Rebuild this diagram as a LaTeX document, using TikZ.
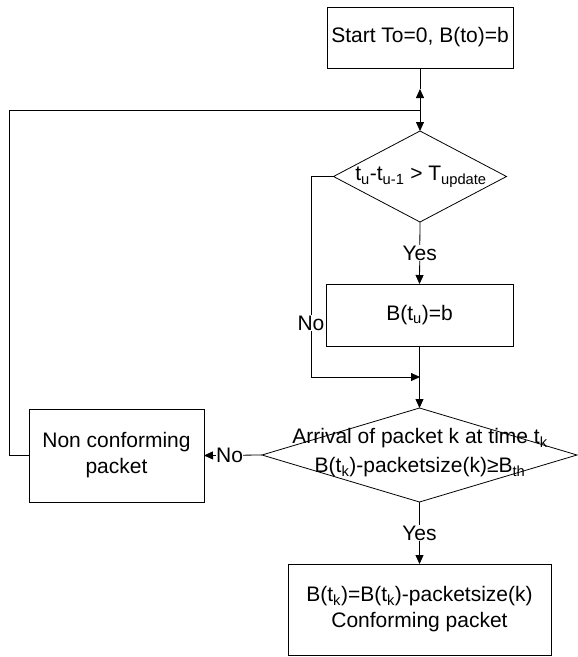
\documentclass[tikz,border=0pt]{standalone}
\usepackage{fontspec}
\setmainfont{Liberation Sans}
\usetikzlibrary{shapes.geometric,arrows.meta}
\begin{document}
\begin{tikzpicture}[x=1pt,y=-1pt,
  every node/.style={font=\fontsize{21}{26}\selectfont},
  box/.style={draw,line width=0.8pt,rectangle,inner sep=0pt,outer sep=0pt,align=center},
  dia/.style={draw,line width=0.8pt,diamond,inner sep=0pt,outer sep=0pt},
  txt/.style={inner sep=0pt,align=center},
  lbl/.style={fill=white,inner sep=1pt},
  conn/.style={line width=0.8pt},
  arr/.style={line width=0.8pt,-{Triangle[length=9pt,width=8pt]}}]
\useasboundingbox (0,0) rectangle (578,657);
% nodes
\node[box,minimum width=186pt,minimum height=61pt] (start) at (420,37.5) {Start To=0, B(to)=b};
\node[dia,minimum width=173pt,minimum height=91pt] (d1) at (420,176.5) {};
\node[txt] (d1t) at (421,177) {t\textsubscript{u}-t\textsubscript{u-1} > T\textsubscript{update}};
\node[box,minimum width=187pt,minimum height=62pt] (bu) at (419.5,315) {B(t\textsubscript{u})=b};
\node[dia,minimum width=315pt,minimum height=94pt] (d2) at (419.5,455) {};
\node[txt] (d2t) at (420,453) {Arrival of packet k at time t\textsubscript{k}\\[3pt]B(t\textsubscript{k})-packetsize(k)≥B\textsubscript{th}};
\node[box,minimum width=175pt,minimum height=93pt] (nc) at (116.5,455.5) {Non conforming\\packet};
\node[box,minimum width=263pt,minimum height=91pt] (cp) at (419.5,609.5) {B(t\textsubscript{k})=B(t\textsubscript{k})-packetsize(k)\\Conforming packet};
% coordinates
\coordinate (loopj) at (420,110);
\coordinate (uptip) at (420,89);
\coordinate (lefttop) at (9,110);
\coordinate (leftbot) at (9,455.5);
\coordinate (nob1) at (311,176.5);
\coordinate (nob2) at (311,377);
\coordinate (merge) at (420,377);
% connectors
\draw[conn] (start.south) -- (uptip);
\draw[arr] (loopj) -- (uptip);
\draw[arr] (loopj) -- (d1.north);
\draw[conn] (nc.west) -- (leftbot) -- (lefttop) -- (loopj);
\draw[arr] (d1.south) -- node[lbl,pos=0.5] (yes1) {Yes} (bu.north);
\draw[arr] (d1.west) -- (nob1) -- (nob2) -- (merge);
\node[lbl] (no1) at (311,323) {No};
\draw[arr] (bu.south) -- (d2.north);
\draw[arr] (d2.west) -- node[lbl,pos=0.56,inner xsep=0.5pt] (no2) {No} (nc.east);
\draw[arr] (d2.south) -- node[lbl,pos=0.5] (yes2) {Yes} (cp.north);
\end{tikzpicture}
\end{document}
